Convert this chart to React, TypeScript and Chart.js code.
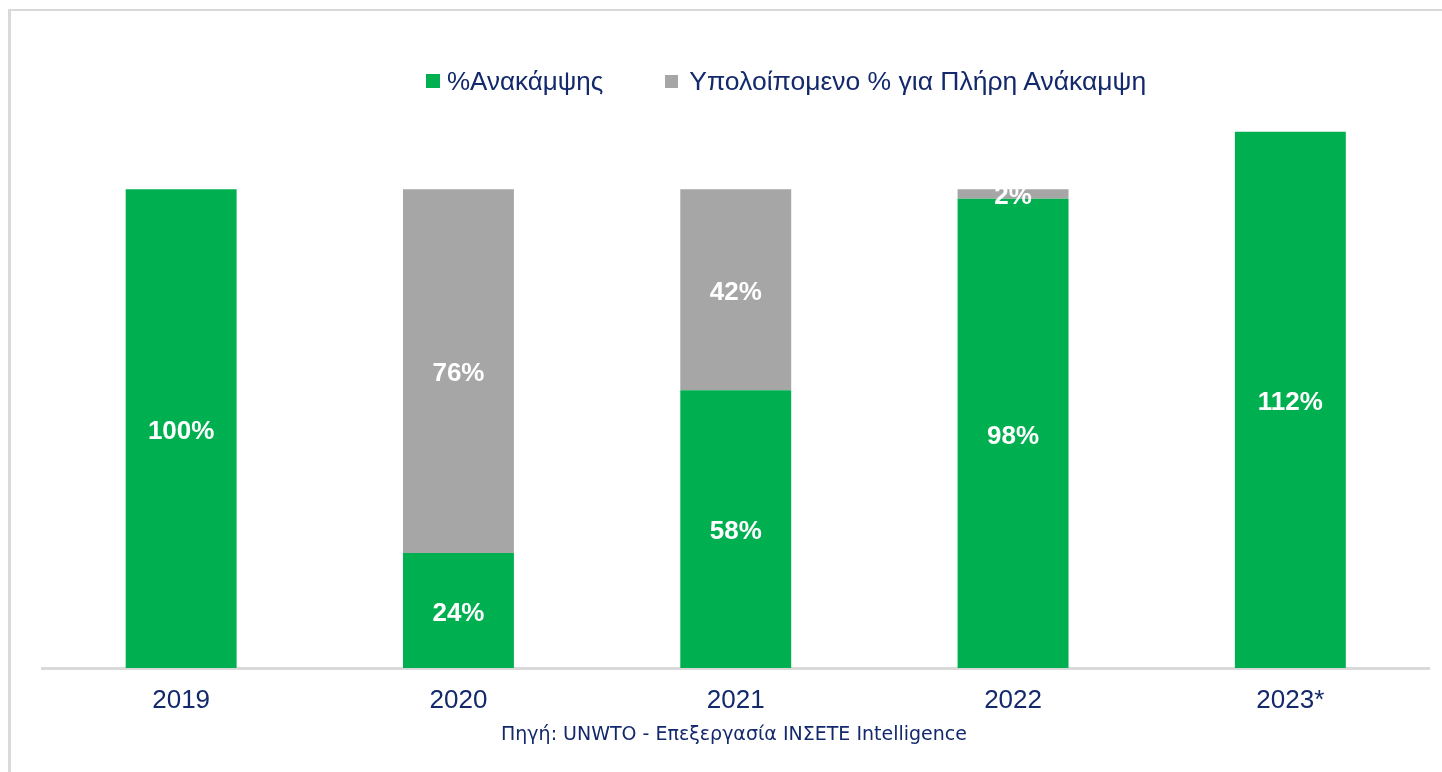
import React, { useEffect, useRef } from "react";
import { Chart, registerables } from "chart.js";

Chart.register(...registerables);

const categories = ["2019", "2020", "2021", "2022", "2023*"];
const recoveryValues = [100, 24, 58, 98, 112];
const remainingValues = [0, 76, 42, 2, 0];
const seriesNames = ["%Ανακάμψης", "Υπολοίπομενο % για Πλήρη Ανάκαμψη"];
const sourceText = "Πηγή: UNWTO - Επεξεργασία ΙΝΣΕΤΕ Intelligence";

const GREEN = "#00b050";
const GREY = "#a6a6a6";
const NAVY = "#13296b";

const barLabels = {
  id: "barLabels",
  afterDatasetsDraw(chart: any) {
    const ctx = chart.ctx;
    ctx.save();
    ctx.font = "bold 26px 'Liberation Sans', Arial, sans-serif";
    ctx.fillStyle = "#ffffff";
    ctx.textAlign = "center";
    ctx.textBaseline = "middle";
    chart.data.datasets.forEach((ds: any, di: number) => {
      const meta = chart.getDatasetMeta(di);
      meta.data.forEach((el: any, i: number) => {
        const v = ds.data[i];
        if (!v) return;
        const p = el.getProps(["x", "y", "base"], true);
        ctx.fillText(v + "%", p.x, (p.y + p.base) / 2 + 3);
      });
    });
    ctx.restore();
  },
};

export default function App() {
  const ref = useRef<HTMLCanvasElement>(null);
  useEffect(() => {
    if (!ref.current) return;
    const chart = new Chart(ref.current, {
      type: "bar",
      data: {
        labels: categories,
        datasets: [
          { label: seriesNames[0], data: recoveryValues, backgroundColor: GREEN, barPercentage: 0.8, categoryPercentage: 0.5 },
          { label: seriesNames[1], data: remainingValues, backgroundColor: GREY, barPercentage: 0.8, categoryPercentage: 0.5 },
        ],
      },
      options: {
        responsive: false,
        animation: false,
        devicePixelRatio: 1,
        layout: { padding: { left: 42.5, right: 13, top: 93.4, bottom: 38.8 } },
        plugins: { legend: { display: false }, tooltip: { enabled: false }, title: { display: false } },
        scales: {
          x: {
            stacked: true,
            grid: { display: false, drawTicks: false },
            border: { display: true, color: "#d9d9d9", width: 3 },
            ticks: { color: NAVY, padding: 17, font: { family: "'Liberation Sans', Arial, sans-serif", size: 26 } },
          },
          y: { stacked: true, display: false, min: 0, max: 120 },
        },
      },
      plugins: [barLabels],
    });
    return () => chart.destroy();
  }, []);

  return (
    <div style={{ position: "fixed", left: 0, top: 0, width: 1442, height: 772, overflow: "hidden", background: "#fff" }}>
      <div style={{ position: "absolute", left: 8, top: 9, width: 1600, height: 900, borderLeft: "3px solid #d9d9d9", borderTop: "2px solid #d9d9d9" }} />
      <canvas ref={ref} width={1442} height={772} style={{ position: "absolute", left: 0, top: 0 }} />
      <div style={{ position: "absolute", left: 426, top: 64, display: "flex", alignItems: "center", fontFamily: "'Liberation Sans', Arial, sans-serif", fontSize: 26, color: NAVY, whiteSpace: "nowrap", lineHeight: "34px" }}>
        <span style={{ display: "inline-block", width: 14, height: 14, background: GREEN, marginRight: 7 }} />
        <span>{seriesNames[0]}</span>
        <span style={{ display: "inline-block", width: 13, height: 13, background: GREY, marginLeft: 62, marginRight: 11 }} />
        <span style={{ fontSize: 26.5 }}>{seriesNames[1]}</span>
      </div>
      <div style={{ position: "absolute", left: 0, width: 1468, top: 722, textAlign: "center", fontFamily: "'DejaVu Sans', Verdana, sans-serif", fontSize: 19, color: NAVY, whiteSpace: "nowrap", lineHeight: "22px" }}>
        {sourceText}
      </div>
    </div>
  );
}
